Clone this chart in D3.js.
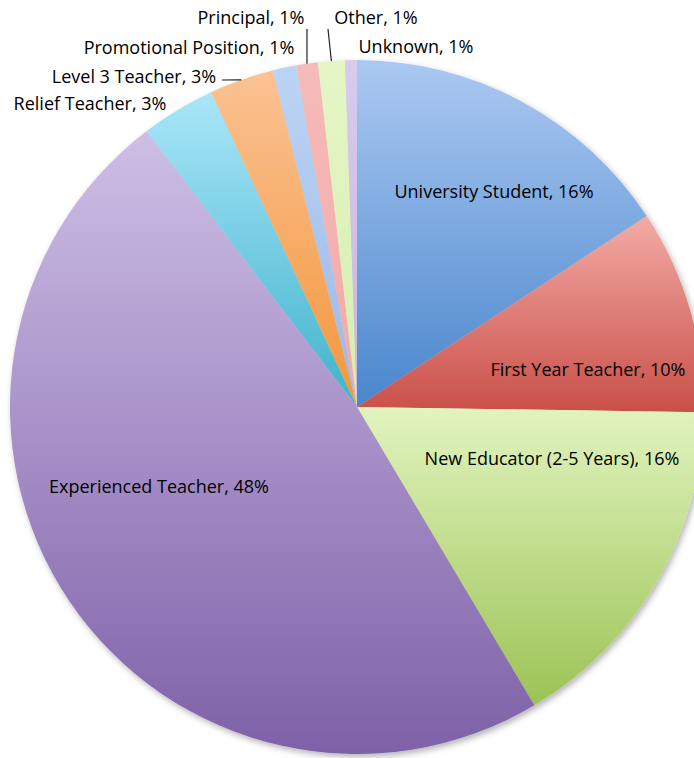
<!DOCTYPE html>
<html>
  <head>
    <meta charset="utf-8">
    <style>
      body { margin: 0; background: #fff; }
      .label {
          font-family: "Open Sans", Lato, sans-serif;
          font-size: 18px;
          fill: #000;
      }
      .leader {
          stroke: #222;
          stroke-width: 1.2;
          fill: none;
      }
    </style>
    <script src="https://cdnjs.cloudflare.com/ajax/libs/d3/7.8.5/d3.min.js" type="text/javascript"></script>
  </head>
  <body>
    <svg width="694" height="758" id="SVG"></svg>
    <script>
      // slices, clockwise from 12 o'clock
      var categories = ["University Student", "First Year Teacher", "New Educator (2-5 Years)",
                        "Experienced Teacher", "Relief Teacher", "Level 3 Teacher",
                        "Promotional Position", "Principal", "Other", "Unknown"];
      var shares = [15.7, 9.5, 16.2, 48.1, 3.45, 3.0, 1.1, 1.0, 1.25, 0.55];

      // gradient colours, light (top) to dark (bottom)
      var topColors = ["#abc9f2", "#f3aba5", "#e2f4bf", "#cebfe6", "#aae6f9", "#fbc293", "#bcd4f4", "#f6bbb9", "#e5f6c6", "#d8cbec"];
      var bottomColors = ["#4a86cc", "#c94f48", "#9cc355", "#7e61a8", "#3fb3cb", "#f4963b", "#9bb8e8", "#f2a8a6", "#d6eeb0", "#c7b6e2"];

      // label placement relative to pie centre, and leader attach points (null = none)
      var labelPos = [[137, -215], [231, -37], [195, 52], [-198, 80], [-267, -303],
                      [-223, -330], [-168, -359], [-106, -389], [19, -389], [59, -360]];
      var leaderStart = [null, null, null, null, null, [-135, -327], null, [-50, -378], [-29, -378], null];

      var svg = d3.select("#SVG");
      var cx = 357, cy = 407, radius = 347;

      var defs = svg.append("defs");
      var shadow = defs.append("filter").attr("id", "shadow")
                       .attr("x", "-10%").attr("y", "-10%").attr("width", "120%").attr("height", "120%");
      shadow.append("feDropShadow").attr("dx", 2).attr("dy", 3).attr("stdDeviation", 3)
            .attr("flood-color", "#000").attr("flood-opacity", 0.3);

      categories.forEach(function(c, i) {
        var g = defs.append("linearGradient").attr("id", "grad" + i)
                    .attr("x1", 0).attr("y1", 0).attr("x2", 0).attr("y2", 1);
        g.append("stop").attr("offset", "0%").attr("stop-color", topColors[i]);
        g.append("stop").attr("offset", "100%").attr("stop-color", bottomColors[i]);
      });

      var data = categories.map(function(c, i) { return { name: c, value: shares[i], idx: i }; });
      var total = d3.sum(shares);

      var pie = d3.pie().sort(null).value(function(d) { return d.value; });
      var arc = d3.arc().innerRadius(0).outerRadius(radius);
      var rim = d3.arc().innerRadius(radius).outerRadius(radius);

      var arcs = pie(data);

      var pieGroup = svg.append("g")
                        .attr("transform", "translate(" + cx + "," + cy + ")");

      pieGroup.append("g")
              .attr("filter", "url(#shadow)")
              .selectAll("path")
              .data(arcs)
              .enter()
              .append("path")
              .attr("d", arc)
              .attr("fill", function(d) { return "url(#grad" + d.data.idx + ")"; });

      // leader lines from the label to the middle of the slice's rim
      pieGroup.selectAll(".leader")
              .data(arcs.filter(function(d) { return leaderStart[d.data.idx]; }))
              .enter()
              .append("line")
              .attr("class", "leader")
              .attr("x1", function(d) { return leaderStart[d.data.idx][0]; })
              .attr("y1", function(d) { return leaderStart[d.data.idx][1]; })
              .attr("x2", function(d) { return rim.centroid(d)[0]; })
              .attr("y2", function(d) { return rim.centroid(d)[1]; });

      pieGroup.selectAll(".label")
              .data(arcs)
              .enter()
              .append("text")
              .attr("class", "label")
              .attr("text-anchor", "middle")
              .attr("x", function(d) { return labelPos[d.data.idx][0]; })
              .attr("y", function(d) { return labelPos[d.data.idx][1]; })
              .attr("dy", "0.35em")
              .text(function(d) { return d.data.name + ", " + Math.round(d.data.value / total * 100) + "%"; });
    </script>
  </body>
</html>
